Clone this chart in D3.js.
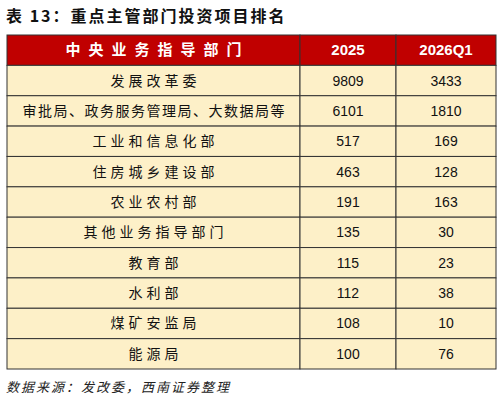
<!DOCTYPE html><html><head><meta charset="utf-8">
<script src="https://cdn.jsdelivr.net/npm/d3@7"></script>
<style>body{margin:0;background:#fff}</style></head><body><svg id="c" width="504" height="402"></svg>
<script>
const headers=["中央业务指导部门","2025","2026Q1"];
const categories=["发展改革委","审批局、政务服务管理局、大数据局等","工业和信息化部","住房城乡建设部","农业农村部","其他业务指导部门","教育部","水利部","煤矿安监局","能源局"];
const v2025=[9809,6101,517,463,191,135,115,112,108,100];
const v2026=[3433,1810,169,128,163,30,23,38,10,76];
const svg=d3.select("#c");
const cjk="'Noto Sans CJK SC',sans-serif";
svg.append("text").attr("x",6).attr("y",22).attr("font-family",cjk).attr("font-weight","bold").attr("font-size",16).attr("letter-spacing","2px").attr("fill","#111").text("表 13：重点主管部门投资项目排名");
const colX=[7,300,396,496];
const y=d3.scaleBand().domain(d3.range(11)).range([35,369]);
const rows=[headers].concat(categories.map((c,i)=>[c,v2025[i],v2026[i]]));
rows.forEach((r,i)=>{
  const hd=i===0;
  for(let j=0;j<3;j++){
    svg.append("rect").attr("x",colX[j]).attr("y",y(i)).attr("width",colX[j+1]-colX[j]).attr("height",y.bandwidth())
      .attr("fill",hd?"#c00000":"#fdf0c8").attr("stroke","#333").attr("stroke-width",1);
    const ls=j!==0?0:(hd?8:(i===2?1.5:4));
    svg.append("text").attr("x",(colX[j]+colX[j+1])/2+ls/2).attr("y",y(i)+y.bandwidth()/2+5)
      .attr("text-anchor","middle").attr("font-size",hd?15:14)
      .attr("font-family",j===0?cjk:"Liberation Sans,Arial,sans-serif")
      .attr("font-weight",hd?"bold":"normal").attr("letter-spacing",ls+"px")
      .attr("fill",hd?"#fff":"#111").text(r[j]);
  }
});
svg.append("text").attr("x",6).attr("y",392).attr("font-family",cjk).attr("font-style","italic").attr("font-size",13).attr("letter-spacing","2px").attr("fill","#222").text("数据来源：发改委，西南证券整理");
</script></body></html>
